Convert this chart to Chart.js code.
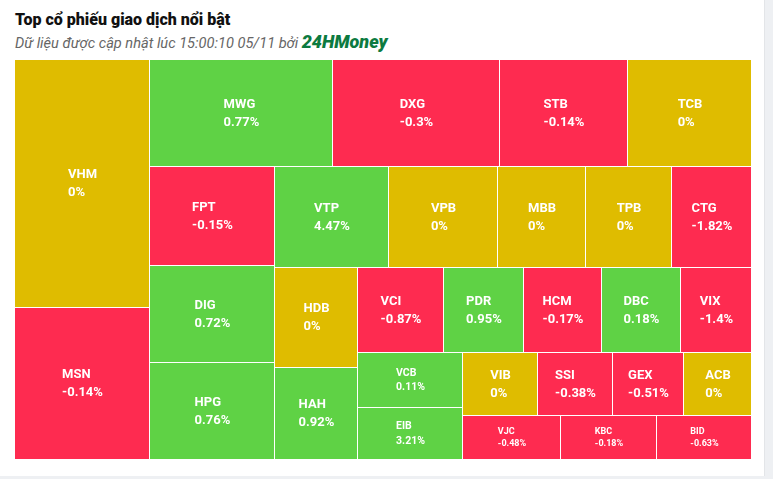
<!DOCTYPE html>
<html>
<head>
<meta charset="utf-8">
<script src="https://cdn.jsdelivr.net/npm/chart.js@4/dist/chart.umd.min.js"></script>
<style>
  html, body { margin: 0; padding: 0; background: #eef0f3; }
  #card { position: absolute; left: 0; top: 0; width: 764px; height: 476px; background: #fff; border-right: 1px solid #e3e5e8; }
  #title { position: absolute; left: 15px; top: 10px; font: 900 16px Roboto, sans-serif; line-height: 20px; color: #111; white-space: nowrap; }
  #subtitle { position: absolute; left: 15px; top: 33px; font: italic 14.6px Roboto, sans-serif; line-height: 18px; color: #666; white-space: nowrap; }
  #subtitle b { font-size: 18px; color: #0c7a40; font-weight: 900; }
  canvas { position: absolute; left: 0; top: 0; }
</style>
</head>
<body>
<div id="card"></div>
<div id="title">Top cổ phiếu giao dịch nổi bật</div>
<div id="subtitle">Dữ liệu được cập nhật lúc 15:00:10 05/11 bởi <b>24HMoney</b></div>
<canvas id="chart" width="773" height="479"></canvas>
<script>
/* global Chart */

// trading value (relative) and price change of each stock, in display order
const symbols = ['VHM', 'MSN', 'MWG', 'DXG', 'STB', 'TCB', 'FPT', 'DIG', 'HPG', 'VTP',
  'VPB', 'MBB', 'TPB', 'CTG', 'HDB', 'HAH', 'VCI', 'PDR', 'HCM', 'DBC',
  'VIX', 'VCB', 'EIB', 'VIB', 'SSI', 'GEX', 'ACB', 'VJC', 'KBC', 'BID'];
const tradeValues = [3348, 2052, 1958, 1787, 1370, 1327, 1238, 1213, 1213, 1151,
  1101, 889, 869, 808, 820, 754, 722, 680, 655, 664,
  596, 578, 546, 479, 473, 447, 428, 436, 422, 418];
const changes = [0, -0.14, 0.77, -0.3, -0.14, 0, -0.15, 0.72, 0.76, 4.47,
  0, 0, 0, -1.82, 0, 0.92, -0.87, 0.95, -0.17, 0.18,
  -1.4, 0.11, 3.21, 0, -0.38, -0.51, 0, -0.48, -0.18, -0.63];

const UP = '#5fd245';
const DOWN = '#fe2b50';
const FLAT = '#dfbc00';
const colorFor = c => (c > 0 ? UP : c < 0 ? DOWN : FLAT);

// squarified layout, direction flips after every row (column first)
function squarify(values, W, H) {
  const total = values.reduce((a, b) => a + b, 0);
  const areas = values.map(v => v / total * W * H);
  const out = [];
  let x = 0, y = 0, w = W, h = H, vertical = true;
  let row = [];

  const ratio = (a, b) => Math.max(a / b, b / a);
  const lastRatio = (items, last) => {
    const sum = items.reduce((s, i) => s + areas[i], 0);
    const t = sum / (vertical ? h : w);
    return ratio(t, areas[last] / t);
  };
  const flush = () => {
    const sum = row.reduce((s, i) => s + areas[i], 0);
    const t = sum / (vertical ? h : w);
    let off = 0;
    row.forEach(i => {
      const len = areas[i] / t;
      out[i] = vertical ? {x, y: y + off, w: t, h: len} : {x: x + off, y, w: len, h: t};
      off += len;
    });
    if (vertical) { x += t; w -= t; } else { y += t; h -= t; }
    vertical = !vertical;
    row = [];
  };

  areas.forEach((a, i) => {
    if (row.length) {
      const prev = row[row.length - 1];
      const before = lastRatio(row, prev);
      const after = lastRatio(row.concat(i), prev);
      if (after > before) flush();
    }
    row.push(i);
  });
  if (row.length) flush();
  return out.map(r => ({x: r.x / W, y: r.y / H, w: r.w / W, h: r.h / H}));
}

class TileElement extends Chart.Element {
  static id = 'tile';
  static defaults = { backgroundColor: '#ccc', gap: 1 };

  inRange(mx, my) {
    return mx >= this.x && mx <= this.x + this.width && my >= this.y && my <= this.y + this.height;
  }
  getCenterPoint() {
    return {x: this.x + this.width / 2, y: this.y + this.height / 2};
  }
  tooltipPosition() {
    return this.getCenterPoint();
  }
  draw(ctx) {
    const {x, y, width, height, options} = this;
    ctx.save();
    ctx.fillStyle = options.backgroundColor;
    ctx.fillRect(x, y, width - options.gap, height - options.gap);
    ctx.restore();
  }
}

class TreemapController extends Chart.DatasetController {
  static id = 'treemap';
  static defaults = { dataElementType: 'tile', datasetElementType: false };
  static overrides = {
    scales: {
      x: {type: 'linear', display: false, min: 0, max: 1},
      y: {type: 'linear', display: false, min: 0, max: 1, reverse: true}
    }
  };

  update(mode) {
    const meta = this._cachedMeta;
    this.updateElements(meta.data, 0, meta.data.length, mode);
  }

  updateElements(tiles, start, count, mode) {
    const {xScale, yScale} = this._cachedMeta;
    const rects = squarify(this.getDataset().data, xScale.right - xScale.left, yScale.bottom - yScale.top);
    for (let i = start; i < start + count; i++) {
      const r = rects[i];
      const x0 = Math.round(xScale.getPixelForValue(r.x));
      const x1 = Math.round(xScale.getPixelForValue(r.x + r.w));
      const y0 = Math.round(yScale.getPixelForValue(r.y));
      const y1 = Math.round(yScale.getPixelForValue(r.y + r.h));
      this.updateElement(tiles[i], i, {
        x: x0, y: y0, width: x1 - x0, height: y1 - y0,
        options: this.resolveDataElementOptions(i, mode)
      }, mode);
    }
  }

  draw() {
    const ctx = this._ctx;
    const ds = this.getDataset();
    const tiles = this._cachedMeta.data;
    tiles.forEach(t => t.draw(ctx));

    ctx.save();
    ctx.fillStyle = '#fff';
    ctx.textBaseline = 'middle';
    ctx.textAlign = 'left';
    tiles.forEach((t, i) => {
      const size = t.height >= 60 ? 13 : t.height >= 50 ? 10.5 : 9;
      const lh = size * 1.38;
      ctx.font = `bold ${size}px Roboto, sans-serif`;
      const lines = [ds.symbols[i], ds.changes[i] + '%'];
      const bw = Math.max(...lines.map(s => ctx.measureText(s).width));
      const c = t.getCenterPoint();
      const left = c.x - bw / 2;
      ctx.fillText(lines[0], left, c.y - lh / 2);
      ctx.fillText(lines[1], left, c.y + lh / 2);
    });
    ctx.restore();
  }
}

Chart.register(TileElement, TreemapController);

new Chart(document.getElementById('chart'), {
  type: 'treemap',
  data: {
    datasets: [{
      data: tradeValues,
      symbols,
      changes,
      backgroundColor: changes.map(colorFor)
    }]
  },
  options: {
    responsive: false,
    animation: false,
    events: [],
    layout: {padding: {left: 15, top: 60, right: 21, bottom: 19}},
    plugins: {legend: {display: false}, tooltip: {enabled: false}}
  }
});
</script>
</body>
</html>
